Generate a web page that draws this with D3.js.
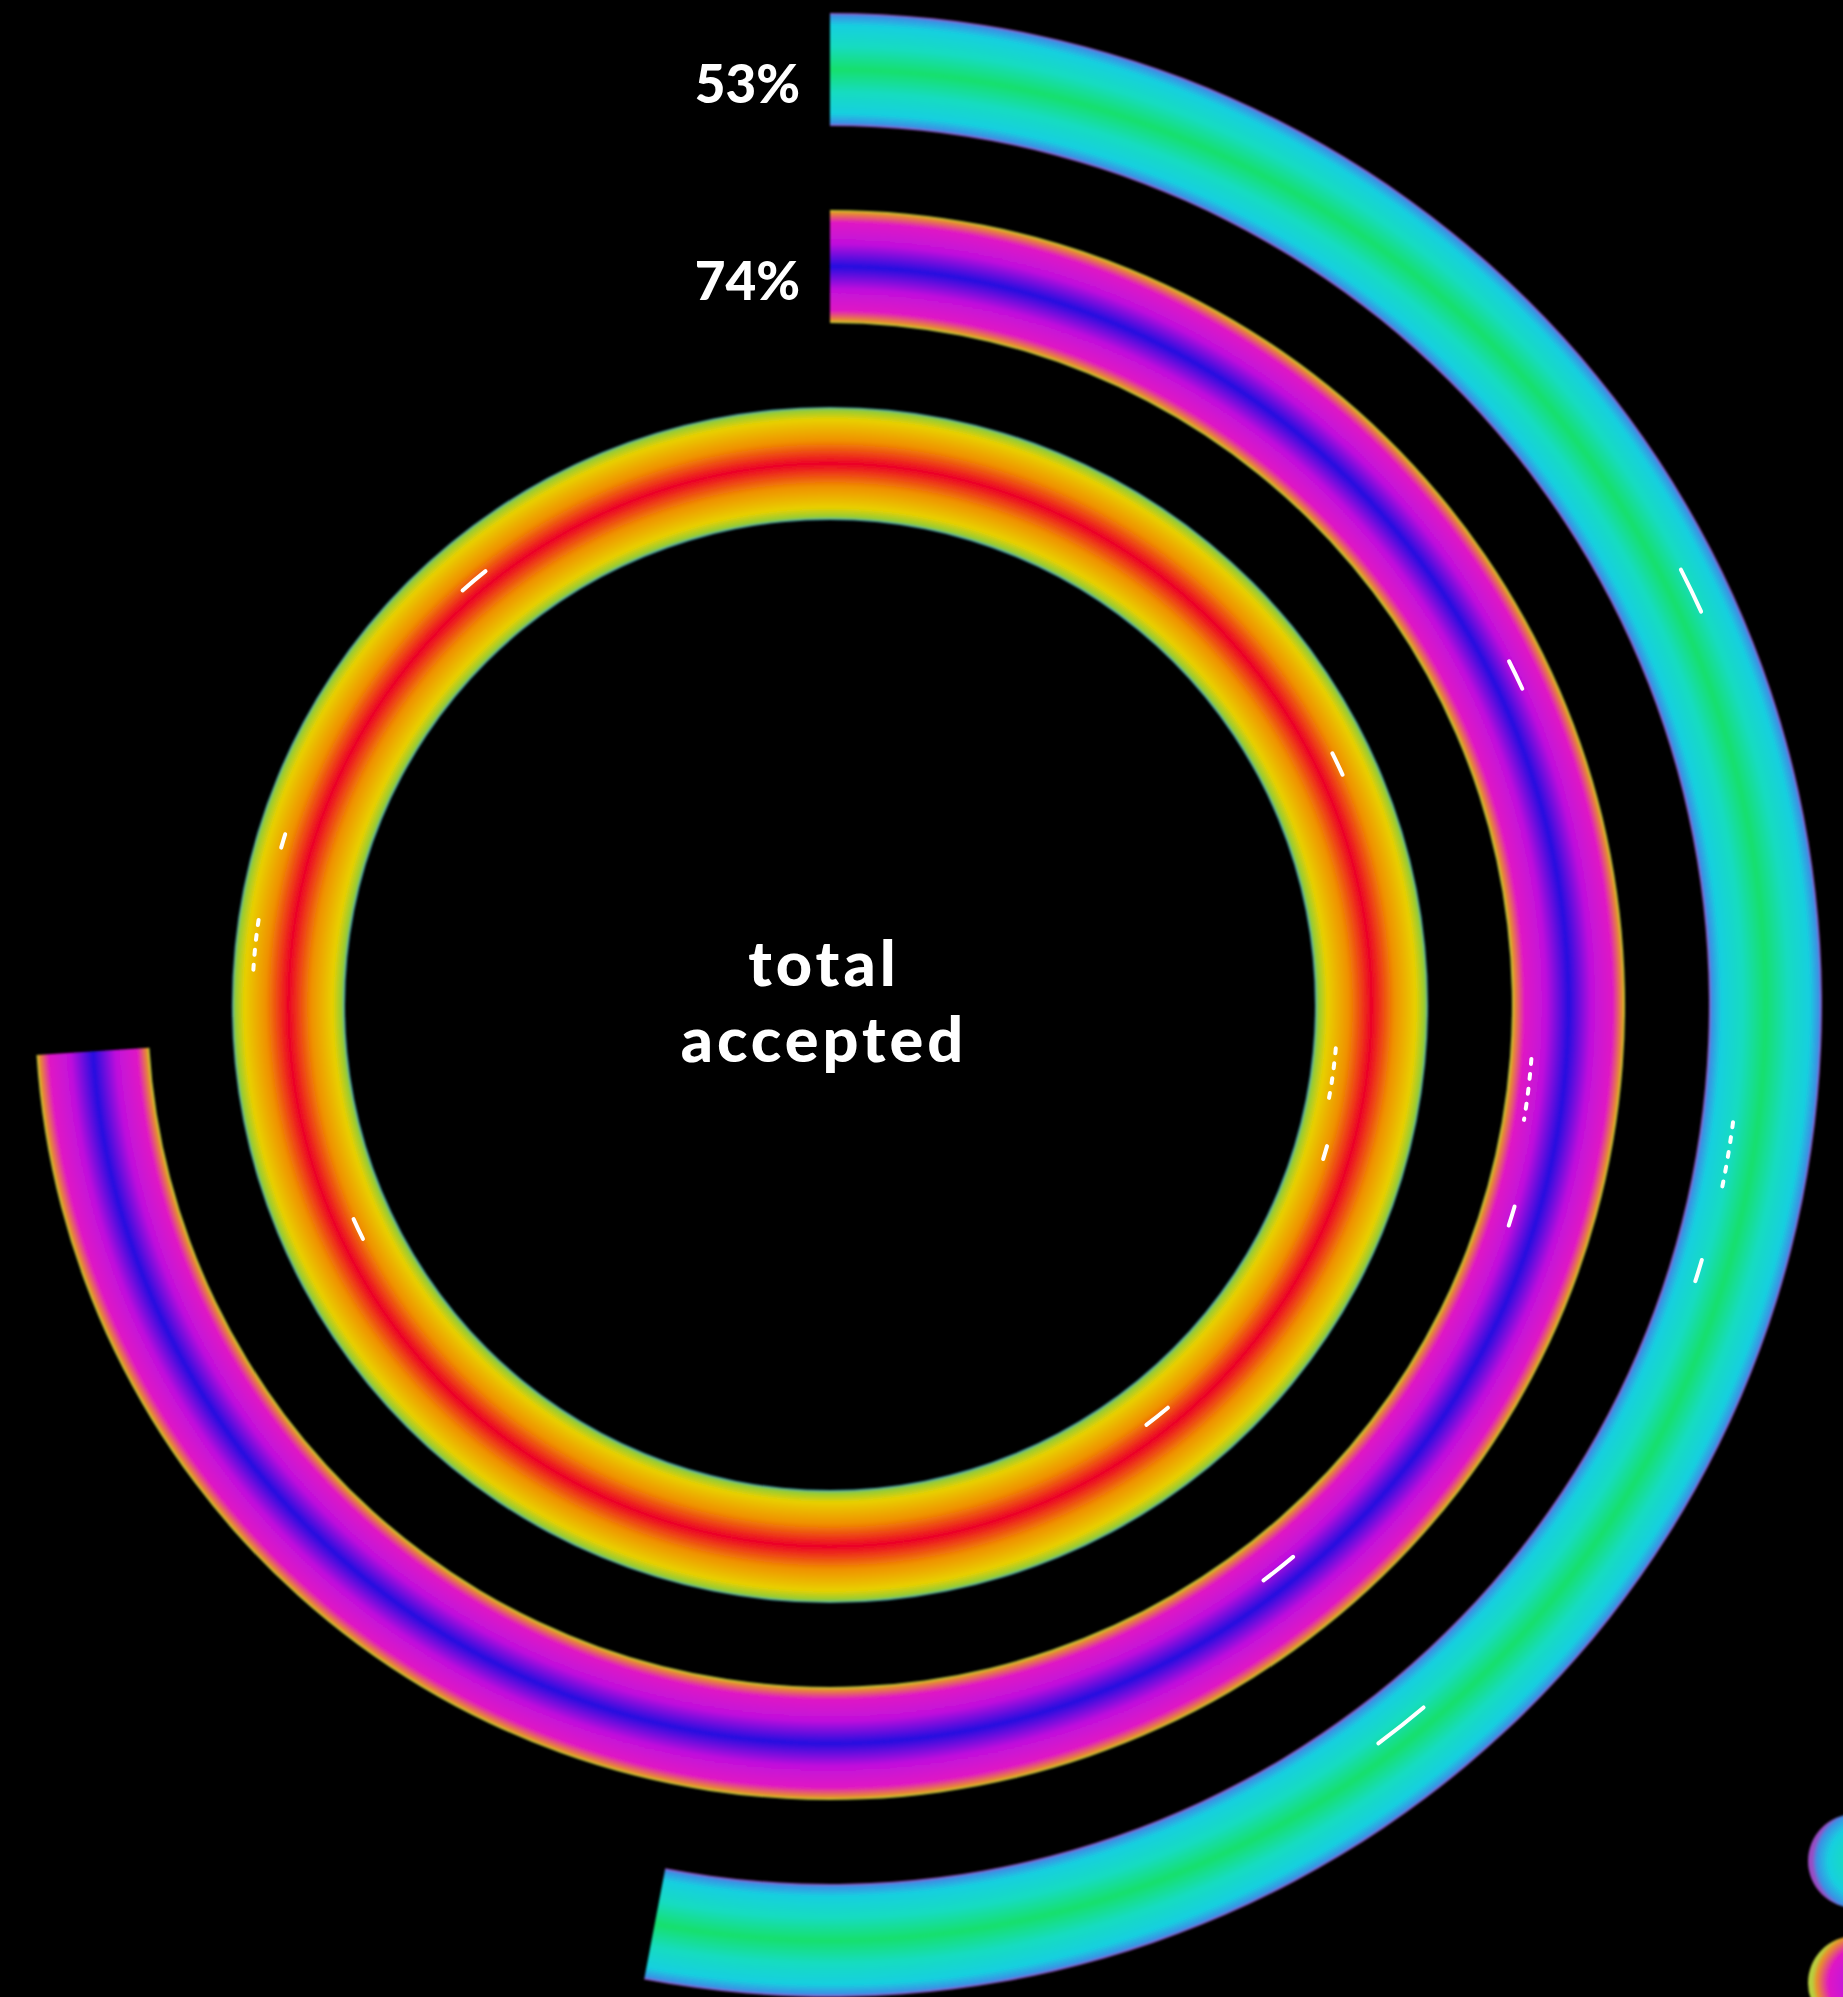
<!DOCTYPE html>
<html>
<head>
<meta charset="utf-8">
<script src="https://cdn.jsdelivr.net/npm/d3@7"></script>
<style>
  html, body { margin: 0; padding: 0; background: #000; overflow: hidden; }
  svg { display: block; }
</style>
</head>
<body>
<svg id="chart" width="1843" height="1997"></svg>
<script>
// ---- data ----
const categories = ["outer", "middle", "total accepted"];
const values = [53, 74, 100];
const valueLabels = ["53%", "74%", ""];
const centerLabel = ["total", "accepted"];
const palettes = [
  ["#9a4cc4", "#3a90e4", "#18cfe0", "#14dcc0", "#12e06c"],
  ["#b8d040", "#e89028", "#e018c4", "#c010dc", "#2410e0"],
  ["#3a9ab8", "#90cc38", "#e8d000", "#f09000", "#ec0028"]
];
// decorative glints: ring index, angle deg, span deg, position across band, dotted
const glintRing = [0, 0, 0, 0, 1, 1, 1, 1, 2, 2, 2, 2, 2, 2, 2, 2];
const glintAngle = [64.3, 99.7, 107, 141.6, 64.3, 96.9, 107.2, 141.5, 320, 286.7, 276, 244.6, 64.6, 97.9, 106.6, 141.5];
const glintSpan = [2.8, 4.6, 1.4, 3.6, 2.3, 5, 1.6, 3, 3.1, 1.4, 5, 2.4, 2.4, 6, 1.5, 3];
const glintPos = [0.68, 0.28, 0.26, 0.36, 0.70, 0.19, 0.28, 0.34, 0.61, 0.76, 0.82, 0.33, 0.68, 0.2, 0.28, 0.36];
const glintDotted = [0, 1, 0, 0, 0, 1, 0, 0, 0, 0, 1, 0, 0, 1, 0, 0];

// ---- layout ----
const W = 1843, H = 1997;
const cx = 830, cy = 1005;
const svg = d3.select("#chart");
svg.append("rect").attr("width", W).attr("height", H).attr("fill", "#000");

const angle = d3.scaleLinear().domain([0, 100]).range([0, 2 * Math.PI]);
const radius = d3.scaleBand()
  .domain(categories.slice().reverse())
  .range([485, 992])
  .paddingInner(0.426)
  .paddingOuter(0);

const defs = svg.append("defs");
const blur = defs.append("filter").attr("id", "soft")
  .attr("x", "-5%").attr("y", "-5%").attr("width", "110%").attr("height", "110%");
blur.append("feGaussianBlur").attr("stdDeviation", 0.9);

const outerMax = radius.range()[1];
const edgeStops = [0, 0.025, 0.11, 0.3, 0.5];

categories.forEach((c, i) => {
  const r0 = radius(c), bw = radius.bandwidth();
  const pal = palettes[i];
  const g = defs.append("radialGradient")
    .attr("id", "ring" + i)
    .attr("gradientUnits", "userSpaceOnUse")
    .attr("cx", 0).attr("cy", 0).attr("r", outerMax);
  const stops = [];
  edgeStops.forEach((t, k) => stops.push([t, pal[k]]));
  for (let k = edgeStops.length - 2; k >= 0; k--) stops.push([1 - edgeStops[k], pal[k]]);
  stops.forEach(([t, col]) => {
    g.append("stop").attr("offset", (r0 + t * bw) / outerMax).attr("stop-color", col);
  });
  const lg = defs.append("radialGradient").attr("id", "leg" + i)
    .attr("cx", "62%").attr("cy", "50%").attr("r", "62%");
  [[0, pal[4]], [0.35, pal[3]], [0.65, pal[2]], [0.85, pal[1]], [0.93, pal[0]], [1, pal[0]]]
    .forEach(([t, col]) => lg.append("stop").attr("offset", t).attr("stop-color", col));
});

const root = svg.append("g").attr("transform", `translate(${cx},${cy})`);

const arc = d3.arc()
  .innerRadius(d => radius(d.cat))
  .outerRadius(d => radius(d.cat) + radius.bandwidth())
  .startAngle(0)
  .endAngle(d => angle(d.value));

const rows = categories.map((c, i) => ({ cat: c, value: values[i], label: valueLabels[i], i }));

root.selectAll("path.ring")
  .data(rows)
  .join("path")
  .attr("class", "ring")
  .attr("d", arc)
  .attr("fill", d => `url(#ring${d.i})`)
  .attr("filter", "url(#soft)");

// glints
const glints = glintRing.map((ri, k) => ({
  ri, a: glintAngle[k], span: glintSpan[k], pos: glintPos[k], dotted: glintDotted[k]
}));
root.selectAll("path.glint")
  .data(glints)
  .join("path")
  .attr("class", "glint")
  .attr("d", d => {
    const r = radius(categories[d.ri]) + d.pos * radius.bandwidth();
    const a0 = (d.a - d.span / 2) * Math.PI / 180;
    const a1 = (d.a + d.span / 2) * Math.PI / 180;
    const p = d3.path();
    p.arc(0, 0, r, a0 - Math.PI / 2, a1 - Math.PI / 2);
    return p.toString();
  })
  .attr("fill", "none")
  .attr("stroke", "#fff")
  .attr("stroke-width", 4)
  .attr("stroke-linecap", "round")
  .attr("stroke-dasharray", d => d.dotted ? "5 10" : null);

// value labels
root.selectAll("text.val")
  .data(rows.filter(d => d.label))
  .join("text")
  .attr("class", "val")
  .attr("x", -30)
  .attr("y", d => -(radius(d.cat) + radius.bandwidth() / 2) + 33)
  .attr("text-anchor", "end")
  .attr("fill", "#fff")
  .attr("font-family", "Lato, 'Open Sans', sans-serif")
  .attr("font-weight", 900)
  .attr("font-size", 53)
  .text(d => d.label);

// center label
root.selectAll("text.center")
  .data(centerLabel)
  .join("text")
  .attr("class", "center")
  .attr("text-anchor", "middle")
  .attr("fill", "#fff")
  .attr("font-family", "Lato, 'Open Sans', sans-serif")
  .attr("font-weight", 900)
  .attr("font-size", 63)
  .attr("letter-spacing", 4)
  .attr("x", -6)
  .attr("y", (d, i) => [-19, 57][i])
  .text(d => d);

// legend swatches (partially outside the frame, as in the original)
svg.append("g").selectAll("circle")
  .data(rows)
  .join("circle")
  .attr("cx", 1855)
  .attr("cy", (d, i) => 1861 + i * 122)
  .attr("r", 47)
  .attr("fill", d => `url(#leg${d.i})`)
  .attr("filter", "url(#soft)");
</script>
</body>
</html>
